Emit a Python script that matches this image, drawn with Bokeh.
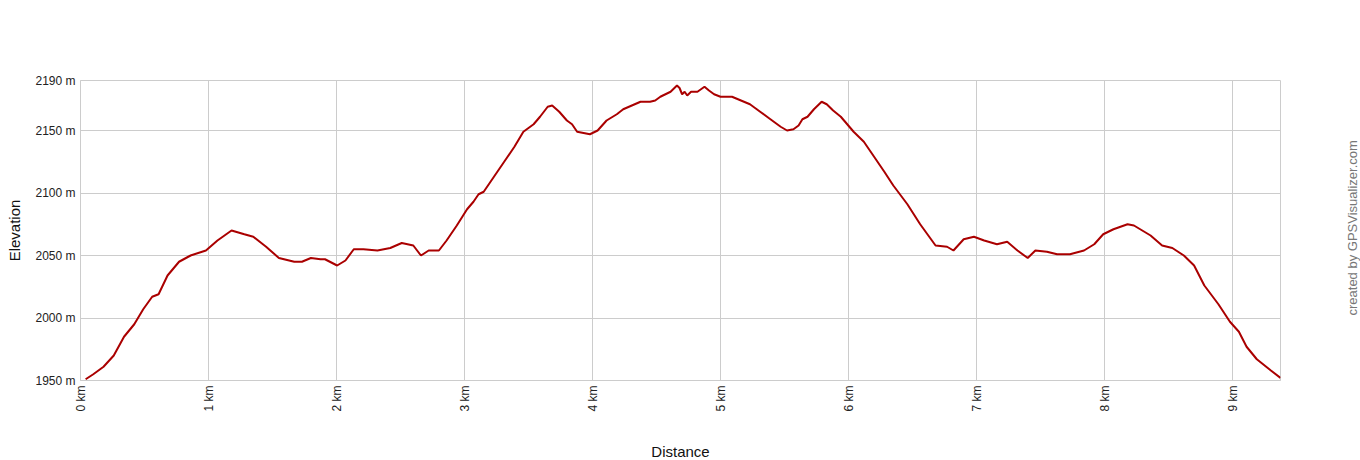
import math
from bokeh.plotting import figure
from bokeh.layouts import row
from bokeh.models import FixedTicker, PrintfTickFormatter, Range1d, Label
from bokeh.embed import file_html
from bokeh.resources import INLINE

# distance (km) and elevation (m)
dist = [0.04, 0.10, 0.18, 0.26, 0.34, 0.42, 0.49, 0.56, 0.61, 0.68, 0.77, 0.86, 0.98,
        1.07, 1.18, 1.28, 1.35, 1.45, 1.55, 1.67, 1.73, 1.80, 1.875, 1.91, 2.005, 2.07,
        2.135, 2.21, 2.32, 2.42, 2.51, 2.60, 2.66, 2.72, 2.80, 2.86, 2.94, 3.02, 3.07,
        3.11, 3.15, 3.23, 3.31, 3.39, 3.46, 3.54, 3.59, 3.65, 3.685, 3.74, 3.80, 3.84,
        3.88, 3.93, 3.98, 4.04, 4.11, 4.19, 4.24, 4.375, 4.45, 4.49, 4.53, 4.61, 4.66,
        4.68, 4.70, 4.72, 4.74, 4.77, 4.82, 4.875, 4.91, 4.95, 5.0, 5.09, 5.16, 5.23,
        5.31, 5.39, 5.47, 5.52, 5.57, 5.61, 5.64, 5.68, 5.73, 5.79, 5.83, 5.88, 5.94,
        6.04, 6.12, 6.20, 6.28, 6.35, 6.46, 6.56, 6.68, 6.77, 6.82, 6.90, 6.98, 7.06,
        7.16, 7.24, 7.32, 7.40, 7.46, 7.55, 7.63, 7.73, 7.84, 7.92, 7.99, 8.07, 8.18,
        8.23, 8.36, 8.45, 8.53, 8.62, 8.70, 8.78, 8.89, 8.98, 9.05, 9.11, 9.19, 9.30,
        9.375]
elev = [1951, 1955, 1961, 1970, 1985, 1995, 2007, 2017, 2019, 2034, 2045, 2050, 2054,
        2062, 2070, 2067, 2065, 2057, 2048, 2045, 2045, 2048, 2047, 2047, 2042, 2046,
        2055, 2055, 2054, 2056, 2060, 2058, 2050, 2054, 2054, 2062, 2074, 2087, 2093,
        2099, 2101, 2113, 2125, 2137, 2149, 2155, 2161, 2169, 2170, 2165, 2158, 2155,
        2149, 2148, 2147, 2150, 2158, 2163, 2167, 2173, 2173, 2174, 2177, 2181, 2186,
        2184, 2179, 2181, 2178, 2181, 2181, 2185, 2182, 2179, 2177, 2177, 2174, 2171,
        2165, 2159, 2153, 2150, 2151, 2154, 2159, 2161, 2167, 2173, 2171, 2166, 2161,
        2149, 2141, 2129, 2117, 2106, 2091, 2075, 2058, 2057, 2054, 2063, 2065, 2062,
        2059, 2061, 2054, 2048, 2054, 2053, 2051, 2051, 2054, 2059, 2067, 2071, 2075,
        2074, 2066, 2058, 2056, 2050, 2042, 2026, 2011, 1997, 1989, 1977, 1967, 1958,
        1952]

x_ticks = [0, 1, 2, 3, 4, 5, 6, 7, 8, 9]
y_ticks = [1950, 2000, 2050, 2100, 2150, 2190]
credit_text = "created by GPSVisualizer.com"

FONT = "Liberation Sans"

p = figure(frame_width=1200, frame_height=300, output_backend="svg", toolbar_location=None,
           x_range=Range1d(0, 9.375), y_range=Range1d(1950, 2190),
           min_border_left=80, min_border_top=80, min_border_right=64, min_border_bottom=78,
           background_fill_color="white", border_fill_color="white")

p.line(dist, elev, line_color="#aa0000", line_width=2)

p.outline_line_color = "#cccccc"
p.outline_line_width = 1

for g in (p.xgrid, p.ygrid):
    g.grid_line_color = "#cccccc"
    g.grid_line_width = 1
p.xgrid.ticker = FixedTicker(ticks=x_ticks)
p.ygrid.ticker = FixedTicker(ticks=y_ticks)

p.xaxis.ticker = FixedTicker(ticks=x_ticks)
p.yaxis.ticker = FixedTicker(ticks=y_ticks)
p.xaxis.formatter = PrintfTickFormatter(format="%d km")
p.yaxis.formatter = PrintfTickFormatter(format="%d m")
p.xaxis.major_label_orientation = math.pi / 2

for ax in (p.xaxis, p.yaxis):
    ax.axis_line_color = "#cccccc"
    ax.major_tick_line_color = None
    ax.minor_tick_line_color = None
    ax.major_tick_out = 0
    ax.major_tick_in = 0
    ax.major_label_text_font = FONT
    ax.major_label_text_font_size = "12px"
    ax.major_label_text_color = "#222222"
    ax.axis_label_text_font = FONT
    ax.axis_label_text_font_size = "15px"
    ax.axis_label_text_font_style = "normal"
    ax.axis_label_text_color = "#111111"
    ax.major_label_standoff = 5

p.xaxis.axis_label = "Distance"
p.yaxis.axis_label = "Elevation"
p.xaxis.axis_label_standoff = 28
p.yaxis.axis_label_standoff = 9

# narrow side strip holding the vertical credit text
side = figure(width=16, height=458, output_backend="svg", toolbar_location=None,
              x_range=Range1d(0, 16), y_range=Range1d(0, 458), min_border=0,
              background_fill_color="white", border_fill_color="white")
side.axis.visible = False
side.grid.visible = False
side.outline_line_color = None
side.add_layout(Label(x=8, y=230, text=credit_text, angle=math.pi / 2,
                      text_align="center", text_baseline="middle", text_font=FONT,
                      text_font_size="13px", text_color="#777777"))

layout = row(p, side, spacing=0)
open("out.html", "w").write(file_html(layout, INLINE))
